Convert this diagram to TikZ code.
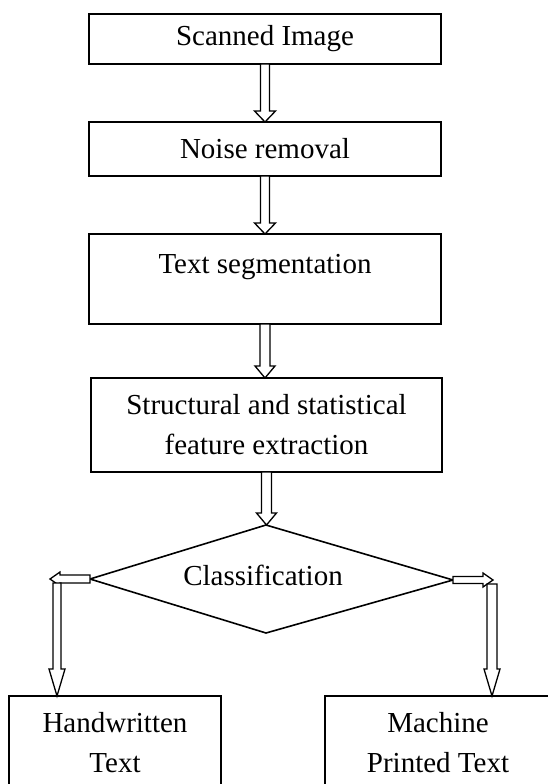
\documentclass[tikz,border=0pt]{standalone}
\usepackage{fontspec}
\setmainfont{Liberation Serif}
\usetikzlibrary{calc}

\tikzset{
  stepbox/.style={draw, line width=1.6pt, inner sep=0pt, outer sep=0pt,
    align=center, font=\fontsize{29pt}{40pt}\selectfont},
  labeltext/.style={inner sep=0pt, align=center, font=\fontsize{29pt}{40pt}\selectfont},
  decision/.style={draw, line width=1.6pt, line join=miter},
  blk/.style={draw, fill=white, line width=1.3pt, line join=miter},
}

% hollow block arrow pointing down: #1 start, #2 tip,
% #3 half shaft width, #4 half head width, #5 head length
\newcommand\vblock[5]{%
  \draw[blk] let \p1=#1, \p2=#2 in
    ({\x1-#3},\y1) -- ({\x1-#3},{\y2+#5}) -- ({\x1-#4},{\y2+#5}) -- (\x1,\y2)
    -- ({\x1+#4},{\y2+#5}) -- ({\x1+#3},{\y2+#5}) -- ({\x1+#3},\y1) -- cycle;}
% hollow block arrow, horizontal: #5 is the signed head length
\newcommand\hblock[5]{%
  \draw[blk] let \p1=#1, \p2=#2 in
    (\x1,{\y1+#3}) -- ({\x2+(#5)},{\y1+#3}) -- ({\x2+(#5)},{\y1+#4}) -- (\x2,\y1)
    -- ({\x2+(#5)},{\y1-#4}) -- ({\x2+(#5)},{\y1-#3}) -- (\x1,{\y1-#3}) -- cycle;}

\begin{document}
\begin{tikzpicture}[x=1pt,y=-1pt]
\useasboundingbox (0,0) rectangle (548,784);
\clip (0,0) rectangle (548,784);

% processing steps
\node[stepbox, minimum width=352pt, minimum height=50pt] (scan) at (265,39) {Scanned Image};
\node[stepbox, minimum width=352pt, minimum height=54pt] (noise) at (265,149) {Noise removal};
\node[stepbox, minimum width=352pt, minimum height=90pt] (seg) at (265,279) {};
\node[labeltext] (segtext) at (265,267) {Text segmentation};
\node[stepbox, minimum width=351pt, minimum height=94pt] (feat) at (266.5,425)
  {Structural and statistical\\feature extraction};

% decision
\coordinate (ctop) at (266,525);
\coordinate (cleft) at (90,579);
\coordinate (cbot) at (266,633);
\coordinate (cright) at (453,580);
\draw[decision] (ctop) -- (cright) -- (cbot) -- (cleft) -- cycle;
\node[labeltext] (cls) at (263,575) {Classification};

% outcomes
\node[stepbox, minimum width=212pt, minimum height=94pt] (hw) at (115,743) {Handwritten\\Text};
\node[stepbox, minimum width=226pt, minimum height=94pt] (mp) at (438,743) {Machine\\Printed Text};

% flow arrows
\vblock{(scan.south)}{(noise.north)}{4.5pt}{10.5pt}{11pt}
\vblock{(noise.south)}{(seg.north)}{4.5pt}{10.5pt}{11pt}
\vblock{(seg.south)}{(feat.north)}{5pt}{10pt}{12pt}
\vblock{(feat.south)}{(ctop)}{5pt}{10pt}{12pt}

\coordinate (ltip) at (50,579);
\coordinate (rtip) at (493,580);
\hblock{(cleft)}{(ltip)}{4pt}{7pt}{10pt}
\hblock{(cright)}{(rtip)}{3.5pt}{7pt}{-10pt}

\coordinate (ldown) at (57,583);
\coordinate (rdown) at (492,584);
\vblock{(ldown)}{(ldown |- hw.north)}{4pt}{8pt}{27pt}
\vblock{(rdown)}{(rdown |- mp.north)}{5pt}{8pt}{27pt}
\end{tikzpicture}
\end{document}
